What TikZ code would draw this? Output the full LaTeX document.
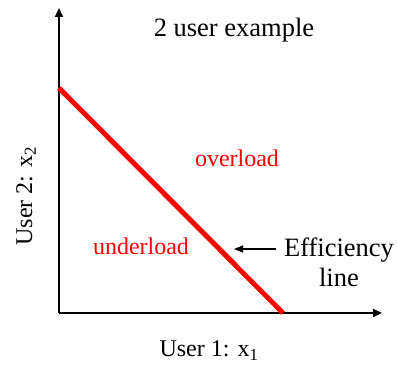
\documentclass[tikz,border=0pt]{standalone}
\usepackage{fontspec}
\setmainfont{Liberation Serif}
\usetikzlibrary{arrows.meta}
\begin{document}
\begin{tikzpicture}[x=1pt,y=-1pt,
  axis/.style={line width=2.2pt,-{Triangle[length=9pt,width=8pt]}},
  eff/.style={red,line width=5pt},
  lbl/.style={font=\fontsize{24}{26}\selectfont,inner sep=0pt,anchor=base},
  biglbl/.style={lbl,font=\fontsize{26.5}{30}\selectfont},
  redlbl/.style={lbl,text=red},
  pointer/.style={line width=1.3pt,-{Triangle[length=9pt,width=7pt]}}]
\useasboundingbox (0,0) rectangle (397,366);
\coordinate (O) at (59,313);
\coordinate (ytip) at (59,8);
\coordinate (xtip) at (382,313);
\coordinate (A) at (59,88);
\coordinate (B) at (283,313);
\draw[axis] (O) -- (ytip);
\draw[axis] (O) -- (xtip);
\draw[eff] (A) -- (B);
\node[biglbl] (title) at (234,37) {2 user example};
\node[redlbl] (over) at (237,167) {overload};
\node[redlbl] (under) at (141,255) {underload};
\node[biglbl] (effa) at (339,257) {Efficiency};
\node[biglbl] (effb) at (339,287) {line};
\coordinate (ptr) at (234,249);
\draw[pointer] (effa.west |- ptr) ++(-8,0) coordinate (ps) -- (ptr);
\node[lbl,rotate=90,anchor=center] (ylab) at (26,196) {User 2: x\textsubscript{2}};
\node[lbl] (xlab) at (209,357) {User 1: x\textsubscript{1}};
\end{tikzpicture}
\end{document}
